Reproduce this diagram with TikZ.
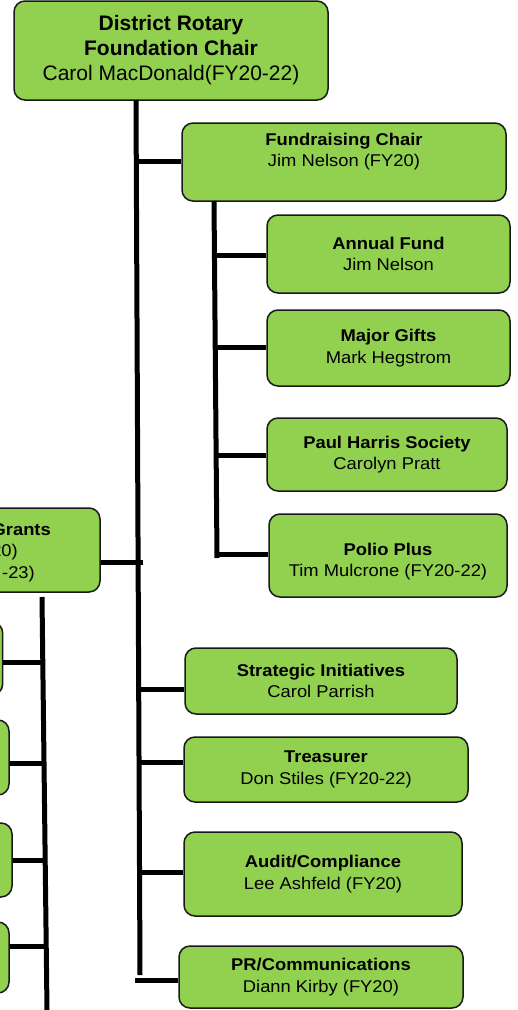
\documentclass[tikz,border=0pt]{standalone}
\usepackage{fontspec}
\setmainfont{Liberation Sans}
\newfontfamily\boxfont[FakeStretch=1.08]{Liberation Sans}
\definecolor{boxgreen}{HTML}{92D050}

\begin{document}
\begin{tikzpicture}[x=1pt, y=-1pt,
        orgbox/.style={draw=black!90, line width=1.5pt, fill=boxgreen, rounded corners=11pt,
            align=center, inner sep=0pt, font=\boxfont\fontsize{17}{21.5}\selectfont},
        boxtext/.style={inner sep=0pt, font=\boxfont\fontsize{17}{21.5}\selectfont},
        link/.style={line width=5pt}]
    \useasboundingbox (0,0) rectangle (518,1010);

    % 顶部方框
    \node[orgbox, minimum width=314pt, minimum height=99pt,
        font=\fontsize{21}{25}\selectfont] (chair) at (171,50.5)
        {\textbf{District Rotary}\\\textbf{Foundation Chair}\\Carol MacDonald(FY20-22)};

    % 右侧方框
    \node[orgbox, minimum width=324pt, minimum height=78pt] (fund) at (344,162)
        {\textbf{Fundraising Chair}\\Jim Nelson (FY20)\\[3pt]\mbox{}};
    \node[orgbox, minimum width=243pt, minimum height=78pt] (annual) at (388.5,254)
        {\textbf{Annual Fund}\\Jim Nelson};
    \node[orgbox, minimum width=243pt, minimum height=76pt] (gifts) at (388.5,348)
        {\textbf{Major Gifts}\\Mark Hegstrom};
    \node[orgbox, minimum width=240pt, minimum height=73pt] (harris) at (387,454.5)
        {\textbf{Paul Harris Society}\\Carolyn Pratt};
    \node[orgbox, minimum width=238pt, minimum height=83pt] (polio) at (388,555.5)
        {\mbox{}\\[3pt]\textbf{Polio Plus}\\Tim Mulcrone (FY20-22)};

    \node[orgbox, minimum width=272pt, minimum height=66pt] (strategy) at (321,681)
        {\textbf{Strategic Initiatives}\\Carol Parrish};
    \node[orgbox, minimum width=284pt, minimum height=65pt] (treasurer) at (326,769.5)
        {\textbf{Treasurer}\\Don Stiles (FY20-22)};
    \node[orgbox, minimum width=278pt, minimum height=84pt] (audit) at (323,874)
        {\textbf{Audit/Compliance}\\Lee Ashfeld (FY20)};
    \node[orgbox, minimum width=284pt, minimum height=62pt] (pr) at (321,977)
        {\textbf{PR/Communications}\\Diann Kirby (FY20)};

    % 左侧方框 (被裁掉一部分)
    \node[orgbox, minimum width=250pt, minimum height=84pt] (grants) at (-25,550) {};
    \node[boxtext, anchor=base east] (grants-a) at (51,535) {\textbf{Grants}};
    \node[boxtext, anchor=base east] (grants-b) at (18,556.5) {20)};
    \node[boxtext, anchor=base east] (grants-c) at (35,578) {-23)};

    \node[orgbox, minimum width=240pt, minimum height=73pt] (left1) at (-117.3,658.5) {};
    \node[orgbox, minimum width=240pt, minimum height=75pt] (left2) at (-111,757.5) {};
    \node[orgbox, minimum width=240pt, minimum height=74pt] (left3) at (-108,860) {};
    \node[orgbox, minimum width=240pt, minimum height=71pt] (left4) at (-111,957.5) {};

    % 主干
    \coordinate (trunk-top) at (136,100);
    \coordinate (trunk-end) at (140,975);
    \draw[link] (trunk-top) -- (trunk-end);

    \coordinate (m-fund) at (137,161);
    \coordinate (m-grants) at (143,562);
    \coordinate (m-strategy) at (138.7,689);
    \coordinate (m-treasurer) at (139,762);
    \coordinate (m-audit) at (139.5,872);
    \coordinate (m-pr) at (135,980);

    \draw[link] (m-fund) -- (m-fund -| fund.west);
    \draw[link] (grants.east |- m-grants) -- (m-grants);
    \draw[link] (m-strategy) -- (m-strategy -| strategy.west);
    \draw[link] (m-treasurer) -- (m-treasurer -| treasurer.west);
    \draw[link] (m-audit) -- (m-audit -| audit.west);
    \draw[link] (m-pr) -- (m-pr -| pr.west);

    % Fundraising 分支
    \coordinate (f-top) at (214,201);
    \coordinate (f-end) at (217,558);
    \draw[link] (f-top) -- (f-end);

    \coordinate (f-annual) at (214.5,255);
    \coordinate (f-gifts) at (215.2,347);
    \coordinate (f-harris) at (216.1,455);
    \coordinate (f-polio) at (217,554);

    \draw[link] (f-annual) -- (f-annual -| annual.west);
    \draw[link] (f-gifts) -- (f-gifts -| gifts.west);
    \draw[link] (f-harris) -- (f-harris -| harris.west);
    \draw[link] (f-polio) -- (f-polio -| polio.west);

    % Grants 分支
    \coordinate (g-top) at (42,597);
    \coordinate (g-end) at (47,1010);
    \draw[link] (g-top) -- (g-end);

    \coordinate (g-left1) at (42.8,662);
    \coordinate (g-left2) at (44,763);
    \coordinate (g-left3) at (45.2,860);
    \coordinate (g-left4) at (46.2,946);

    \draw[link] (g-left1 -| left1.east) -- (g-left1);
    \draw[link] (g-left2 -| left2.east) -- (g-left2);
    \draw[link] (g-left3 -| left3.east) -- (g-left3);
    \draw[link] (g-left4 -| left4.east) -- (g-left4);
\end{tikzpicture}
\end{document}
